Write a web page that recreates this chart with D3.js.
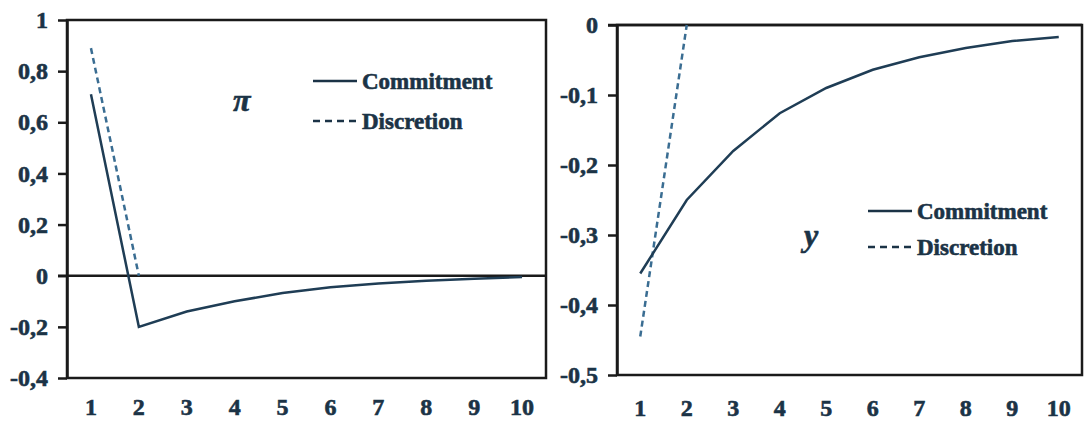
<!DOCTYPE html>
<html lang="en">
<head>
<meta charset="UTF-8">
<title>Commitment vs Discretion</title>
<script src="https://d3js.org/d3.v7.min.js"></script>
<style>
    body { margin: 0; background: #fff; }
    svg { display: block; }
    text { font-family: "Liberation Serif", "DejaVu Serif", serif; font-weight: bold; fill: #1b3346; stroke: #1b3346; stroke-width: 0.6px; }
</style>
</head>
<body>
<svg width="1086" height="432"></svg>
<script>
    // periods on the x axis
    const periods = [1, 2, 3, 4, 5, 6, 7, 8, 9, 10];

    // inflation (pi) responses
    const piCommitment = [0.71, -0.2, -0.14, -0.1, -0.068, -0.045, -0.03, -0.02, -0.012, -0.005];
    const piDiscretion = [0.89, 0.0]; // visible only over periods 1-2

    // output gap (y) responses
    const yCommitment = [-0.355, -0.25, -0.18, -0.126, -0.09, -0.064, -0.046, -0.033, -0.023, -0.017];
    const yDiscretion = [-0.445, 0.0];

    // tick values
    const piTicks = [1, 0.8, 0.6, 0.4, 0.2, 0, -0.2, -0.4];
    const yTicks = [0, -0.1, -0.2, -0.3, -0.4, -0.5];

    const legendNames = ["Commitment", "Discretion"];

    const FONT = "'Liberation Serif', 'DejaVu Serif', serif";
    const svg = d3.select("svg");
    const commaFmt = d => String(d).replace(".", ",");

    function styleText(sel, size) {
        sel.attr("font-family", FONT).attr("font-weight", "bold").attr("font-size", size)
            .style("font-family", FONT).style("font-weight", "bold").style("font-size", size + "px")
            .attr("fill", "#1b3346");
    }

    function panel(opt) {
        const x = d3.scaleBand().domain(periods).range([opt.left, opt.right]);
        const y = d3.scaleLinear().domain(opt.domain).range([opt.bottom, opt.top]);
        const g = svg.append("g");

        // frame
        g.append("rect")
            .attr("x", opt.left).attr("y", opt.top)
            .attr("width", opt.right - opt.left).attr("height", opt.bottom - opt.top)
            .attr("fill", "none").attr("stroke", "#1a1a1a").attr("stroke-width", 2.5);

        // y axis
        const ya = g.append("g")
            .attr("transform", `translate(${opt.left},0)`)
            .call(d3.axisLeft(y).tickValues(opt.ticks).tickFormat(commaFmt).tickSize(9).tickPadding(10).tickSizeOuter(0));
        ya.select(".domain").attr("stroke", "#1a1a1a").attr("stroke-width", 2.5);
        ya.selectAll(".tick line").attr("stroke", "#1a1a1a").attr("stroke-width", 2.5);
        styleText(ya.selectAll(".tick text"), 24);

        // x axis labels
        const xa = g.append("g")
            .attr("transform", `translate(0,${opt.bottom})`)
            .call(d3.axisBottom(x).tickSize(0).tickPadding(opt.xPad).tickSizeOuter(0));
        xa.select(".domain").remove();
        styleText(xa.selectAll(".tick text"), 24);

        // zero line
        g.append("line")
            .attr("x1", opt.left - 9).attr("x2", opt.right)
            .attr("y1", y(0)).attr("y2", y(0))
            .attr("stroke", "#1a1a1a").attr("stroke-width", 2.5);

        const line = d3.line()
            .x((d, i) => x(periods[i]) + x.bandwidth() / 2)
            .y(d => y(d));

        g.append("path")
            .attr("d", line(opt.disc))
            .attr("fill", "none").attr("stroke", "#3a6d92")
            .attr("stroke-width", 2.5).attr("stroke-dasharray", "6,4");

        g.append("path")
            .attr("d", line(opt.comm))
            .attr("fill", "none").attr("stroke", "#1f3d55")
            .attr("stroke-width", 2.5);

        // symbol
        g.append("text")
            .attr("x", opt.sym[0]).attr("y", opt.sym[1])
            .style("font-family", FONT).style("font-style", "italic").style("font-size", "32px")
            .text(opt.symbol);

        // legend
        legendNames.forEach((name, i) => {
            const ly = opt.leg[1] + i * opt.legGap;
            g.append("line")
                .attr("x1", opt.leg[0]).attr("x2", opt.leg[0] + 44)
                .attr("y1", ly).attr("y2", ly)
                .attr("stroke", "#1b3346").attr("stroke-width", 2.5)
                .attr("stroke-dasharray", i === 0 ? null : "7,5");
            g.append("text")
                .attr("x", opt.leg[0] + 49).attr("y", ly + 8)
                .style("font-family", FONT).style("font-size", "23px")
                .text(name);
        });
    }

    panel({
        left: 67, right: 546, top: 20, bottom: 378,
        domain: [-0.4, 1], ticks: piTicks,
        comm: piCommitment, disc: piDiscretion,
        xPad: 20, symbol: "π", sym: [233, 111],
        leg: [313, 81], legGap: 40
    });

    panel({
        left: 617, right: 1082, top: 25, bottom: 375,
        domain: [-0.5, 0], ticks: yTicks,
        comm: yCommitment, disc: yDiscretion,
        xPad: 24, symbol: "y", sym: [804, 246],
        leg: [868, 211], legGap: 36
    });
</script>
</body>
</html>
